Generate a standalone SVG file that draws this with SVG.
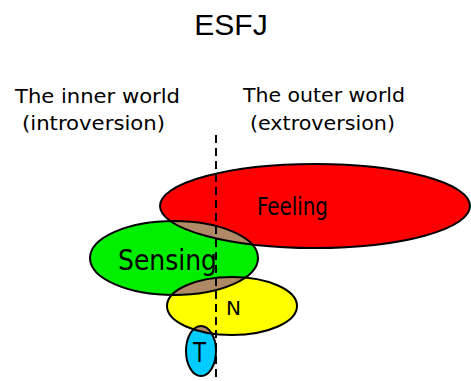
<svg xmlns="http://www.w3.org/2000/svg" width="471" height="381" viewBox="0 0 471 381">
<style>
.lbl{font-family:"DejaVu Sans Condensed","DejaVu Sans","Liberation Sans",sans-serif;fill:#000}
.ol{fill:none;stroke:#000;stroke-width:2}
.ov{fill:#b08a66}
</style>
<defs>
<clipPath id="cF"><ellipse cx="315" cy="206" rx="155" ry="42"/></clipPath>
<clipPath id="cS"><ellipse cx="174" cy="258" rx="84" ry="37"/></clipPath>
<clipPath id="cN"><ellipse cx="232" cy="306" rx="65" ry="29"/></clipPath>
</defs>
<rect width="471" height="381" fill="#fff"/>
<text x="231" y="35" text-anchor="middle" font-family="Liberation Sans, Arial, sans-serif" font-size="30">ESFJ</text>
<text class="lbl" x="15" y="103" font-size="20" textLength="165" lengthAdjust="spacingAndGlyphs">The inner world</text>
<text class="lbl" x="22" y="130" font-size="20" textLength="143" lengthAdjust="spacingAndGlyphs">(introversion)</text>
<text class="lbl" x="243" y="102" font-size="20" textLength="162" lengthAdjust="spacingAndGlyphs">The outer world</text>
<text class="lbl" x="250" y="130" font-size="20" textLength="145" lengthAdjust="spacingAndGlyphs">(extroversion)</text>
<g id="feeling">
<ellipse cx="315" cy="206" rx="155" ry="42" fill="#ff0000"/>
</g>
<g id="sensing">
<ellipse cx="174" cy="258" rx="84" ry="37" fill="#00ee00"/>
</g>
<g id="n">
<ellipse cx="232" cy="306" rx="65" ry="29" fill="#ffff00"/>
</g>
<g id="t">
<ellipse cx="201" cy="351" rx="15" ry="25" fill="#00ccff"/>
</g>
<g id="overlaps">
<ellipse cx="174" cy="258" rx="84" ry="37" class="ov" clip-path="url(#cF)"/>
<ellipse cx="232" cy="306" rx="65" ry="29" class="ov" clip-path="url(#cS)"/>
<ellipse cx="201" cy="351" rx="15" ry="25" class="ov" clip-path="url(#cN)"/>
</g>
<g id="outlines">
<ellipse cx="315" cy="206" rx="155" ry="42" class="ol"/>
<ellipse cx="174" cy="258" rx="84" ry="37" class="ol"/>
<ellipse cx="232" cy="306" rx="65" ry="29" class="ol"/>
<ellipse cx="201" cy="351" rx="15" ry="25" class="ol"/>
</g>
<g id="labels">
<text class="lbl" x="257" y="215" font-size="24" textLength="71" lengthAdjust="spacingAndGlyphs">Feeling</text>
<text class="lbl" x="118" y="270" font-size="29" textLength="99" lengthAdjust="spacingAndGlyphs">Sensing</text>
<text class="lbl" x="226" y="315" font-size="20" textLength="15" lengthAdjust="spacingAndGlyphs">N</text>
<text class="lbl" x="193" y="362" font-size="27" textLength="13" lengthAdjust="spacingAndGlyphs">T</text>
</g>
<g id="connectors">
<line x1="216" y1="135" x2="216" y2="381" stroke="#000" stroke-width="2" stroke-dasharray="8,5"/>
</g>
</svg>
